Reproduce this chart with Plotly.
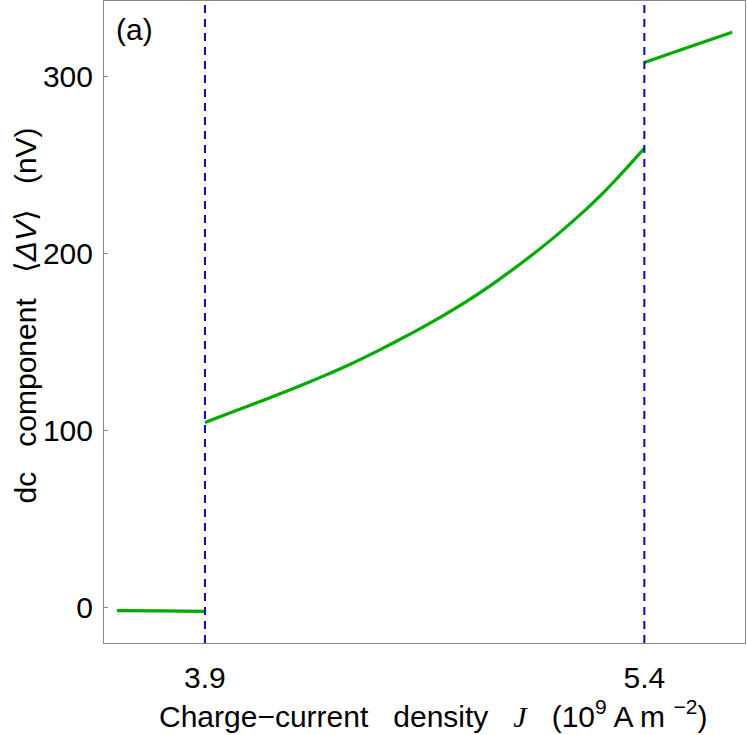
import plotly.graph_objects as go

# dc component of the voltage vs charge-current density (three branches)
j_low = [3.6, 3.75, 3.9]
dv_low = [-2.0, -2.2, -2.4]

j_mid = [3.9, 4.0, 4.1, 4.2, 4.3, 4.4, 4.5, 4.6, 4.7, 4.8, 4.9, 5.0, 5.1, 5.2, 5.25, 5.3, 5.35, 5.4]
dv_mid = [104.3, 110.6, 116.9, 123.4, 130.2, 137.5, 145.6, 154.2, 163.4, 173.4, 184.6,
          196.8, 210.0, 224.5, 232.4, 241.0, 250.0, 259.2]

j_high = [5.4, 5.55, 5.7]
dv_high = [307.6, 316.3, 324.8]

transitions = [3.9, 5.4]
x_ticks = [3.9, 5.4]
y_ticks = [0, 100, 200, 300]

GREEN = "rgb(0,170,0)"
BLUE = "rgb(10,10,190)"
FONT = "Liberation Sans, Arial, sans-serif"
GAP = "\u00a0\u00a0\u00a0"

fig = go.Figure()
for xs, ys in [(j_low, dv_low), (j_mid, dv_mid), (j_high, dv_high)]:
    fig.add_trace(go.Scatter(x=xs, y=ys, mode="lines", line=dict(color=GREEN, width=3.2, shape="spline", smoothing=0.6),
                             showlegend=False, hoverinfo="skip"))

for xt in transitions:
    fig.add_shape(type="line", x0=xt, x1=xt, xref="x", yref="paper", y0=0, y1=1,
                  line=dict(color=BLUE, width=2, dash="8px,6px"))

axis_common = dict(showgrid=False, zeroline=False, showline=True, linecolor="#888888", linewidth=1,
                   mirror=True, ticks="inside", ticklen=4, tickcolor="#888888",
                   tickfont=dict(family=FONT, size=30, color="black"))

fig.update_xaxes(range=[3.5554, 5.7436], tickvals=x_ticks, ticktext=["3.9", "5.4"], ticklabelstandoff=8, **axis_common)
fig.update_yaxes(range=[-20.3, 342.4], tickvals=y_ticks, ticklabelstandoff=4, **axis_common)

fig.add_annotation(text="(a)", xref="paper", yref="paper", x=0.016, y=0.985, xanchor="left", yanchor="top",
                   showarrow=False, font=dict(family=FONT, size=30, color="black"))
fig.add_annotation(text="Charge\u2212current" + GAP + "density" + GAP
                   + "<span style='font-family:Liberation Serif'><i>J</i></span>" + GAP
                   + "(10<sup>9</sup> A m <sup>\u22122</sup>)",
                   xref="paper", yref="paper", x=0.513, y=-0.11, xanchor="center", yanchor="middle",
                   showarrow=False, font=dict(family=FONT, size=30, color="black"))
fig.add_annotation(text="dc" + GAP + "component" + GAP + "\u27e8<i>\u0394V</i>\u27e9" + GAP + "(nV)",
                   xref="paper", yref="paper", x=-0.122, y=0.51, xanchor="center", yanchor="middle", textangle=-90,
                   showarrow=False, font=dict(family=FONT, size=30, color="black"))

fig.update_layout(width=747, height=735, margin=dict(l=104, r=2, t=1, b=92),
                  plot_bgcolor="white", paper_bgcolor="white")

fig.write_html("out.html", config={"displayModeBar": False}, post_script="document.body.style.margin='0';")
